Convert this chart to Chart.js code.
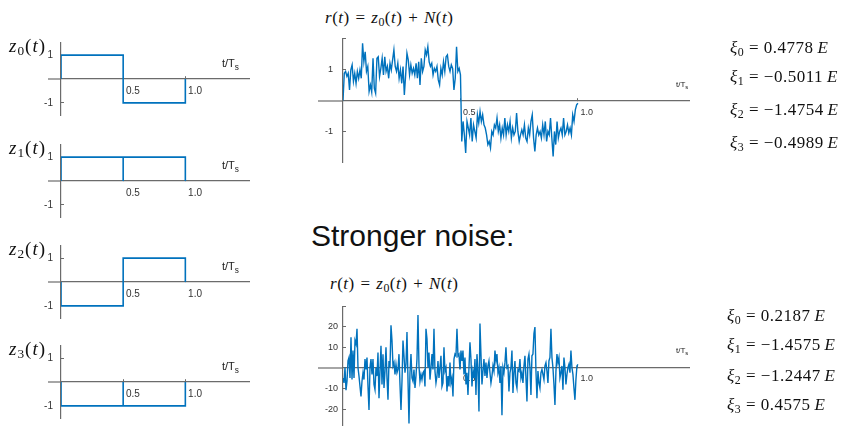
<!DOCTYPE html>
<html>
<head>
<meta charset="utf-8">
<script src="https://cdn.jsdelivr.net/npm/chart.js@4.4.1/dist/chart.umd.min.js"></script>
<style>
  html, body { margin: 0; padding: 0; background: #fff; }
  body { position: relative; width: 841px; height: 426px; overflow: hidden; }
  canvas { position: absolute; }
  .math { position: absolute; font-family: 'Liberation Serif', 'DejaVu Serif', serif; color: #111; white-space: nowrap; line-height: 1; }
  .math sub { font-size: 70%; vertical-align: -0.25em; line-height: 0; }
  .zl { font-size: 19px; letter-spacing: 1px; }
  .title { font-size: 17px; letter-spacing: 0.5px; word-spacing: 1px; }
  .xi { font-size: 17px; letter-spacing: 0.5px; }
  .axlbl { position: absolute; font-family: 'Liberation Sans', Arial, sans-serif; color: #222; white-space: nowrap; line-height: 1; }
  .axlbl sub { font-size: 75%; vertical-align: -0.4em; line-height: 0; }
  .head { position: absolute; font-family: 'Liberation Sans', Arial, sans-serif; color: #111; white-space: nowrap; line-height: 1; }
</style>
</head>
<body>
<!-- left column: the four signals -->
<canvas id="z0-chart" width="250" height="74" style="left:0; top:42px"></canvas>
<canvas id="z1-chart" width="250" height="74" style="left:0; top:144px"></canvas>
<canvas id="z2-chart" width="250" height="74" style="left:0; top:245px"></canvas>
<canvas id="z3-chart" width="250" height="74" style="left:0; top:345px"></canvas>

<div class="math zl" style="left:9px; top:36px"><i>z</i><sub>0</sub>(<i>t</i>)</div>
<div class="math zl" style="left:9px; top:138px"><i>z</i><sub>1</sub>(<i>t</i>)</div>
<div class="math zl" style="left:9px; top:239px"><i>z</i><sub>2</sub>(<i>t</i>)</div>
<div class="math zl" style="left:9px; top:339px"><i>z</i><sub>3</sub>(<i>t</i>)</div>

<div class="axlbl" style="left:222px; top:58px; font-size:11px">t/T<sub>s</sub></div>
<div class="axlbl" style="left:222px; top:160px; font-size:11px">t/T<sub>s</sub></div>
<div class="axlbl" style="left:222px; top:261px; font-size:11px">t/T<sub>s</sub></div>
<div class="axlbl" style="left:222px; top:361px; font-size:11px">t/T<sub>s</sub></div>

<!-- middle: received signal, weak and strong noise -->
<div class="math title" style="left:325px; top:9px"><i>r</i>(<i>t</i>) = <i>z</i><sub>0</sub>(<i>t</i>) + <i>N</i>(<i>t</i>)</div>
<canvas id="weak-chart" width="390" height="125" style="left:300px; top:38px"></canvas>
<div class="axlbl" style="left:676px; top:81px; font-size:8px">t/T<sub>s</sub></div>

<div class="head" style="left:311px; top:221px; font-size:30px">Stronger noise:</div>

<div class="math title" style="left:330px; top:275px"><i>r</i>(<i>t</i>) = <i>z</i><sub>0</sub>(<i>t</i>) + <i>N</i>(<i>t</i>)</div>
<canvas id="strong-chart" width="390" height="124" style="left:300px; top:306px"></canvas>
<div class="axlbl" style="left:676px; top:347px; font-size:8px">t/T<sub>s</sub></div>

<!-- right: correlator outputs -->
<div class="math xi" style="left:730px; top:39px"><i>ξ</i><sub>0</sub> = 0.4778&#8201;<i>E</i></div>
<div class="math xi" style="left:730px; top:68px"><i>ξ</i><sub>1</sub> = −0.5011&#8201;<i>E</i></div>
<div class="math xi" style="left:730px; top:101px"><i>ξ</i><sub>2</sub> = −1.4754&#8201;<i>E</i></div>
<div class="math xi" style="left:730px; top:134px"><i>ξ</i><sub>3</sub> = −0.4989&#8201;<i>E</i></div>

<div class="math xi" style="left:727px; top:307px"><i>ξ</i><sub>0</sub> = 0.2187&#8201;<i>E</i></div>
<div class="math xi" style="left:727px; top:336px"><i>ξ</i><sub>1</sub> = −1.4575&#8201;<i>E</i></div>
<div class="math xi" style="left:727px; top:367px"><i>ξ</i><sub>2</sub> = −1.2447&#8201;<i>E</i></div>
<div class="math xi" style="left:727px; top:396px"><i>ξ</i><sub>3</sub> = 0.4575&#8201;<i>E</i></div>

<script>
// ---- data ----
// signal shapes (t/Ts, amplitude)
const stepTimes = [0, 0, 0.5, 0.5, 1, 1];
const z0Values = [0, 1, 1, -1, -1, 0];
const z2Values = [0, -1, -1, 1, 1, 0];
const splitTimes = [0, 0, 0.5, 0.5, 0.5, 1, 1];
const z1Values = [0, 1, 1, 0, 1, 1, 0];
const z3Values = [0, -1, -1, 0, -1, -1, 0];

const signalXTicks = [0.5, 1.0];
const signalYTicks = [-1, 1];
const signalYLabels = ['-1', '1'];

const noiseXTicks = [0.5, 1.0];
const weakYTicks = [-2, -1, 1, 2];
const weakYLabels = ['', '-1', '1', ''];
const strongYTicks = [-30, -20, -10, 10, 20, 30];
const strongYLabels = ['', '-20', '-10', '10', '20', ''];

// r(t) samples over 0..1 t/Ts
const weakNoise = [
    0, 0.87, 0.93, 0.77, 0.87, 0.34, 0.98, 1.14, 0.61, 0.87,
    0.55, 0.93, 0.71, 0.98, 0.71, 1.83, 1.24, 1.56, 0.93, 1.09,
    0.29, 0.50, 0.27, 1.35, 0.39, 0.23, 1.35, 1.40, 0.77, 1.03,
    1.35, 0.82, 1.40, 0.93, 1.09, 0.71, 1.19, 0.98, 1.30, 1.62,
    1.09, 0.93, 1.19, 0.71, 0.98, 0.55, 1.09, 0.18, 0.82, 1.51,
    1.30, 0.82, 1.14, 0.87, 1.03, 0.82, 1.19, 0.71, 1.24, 0.50,
    1.35, 0.93, 1.09, 1.62, 1.46, 1.72, 1.24, 1.09, 1.19, 0.82,
    1.03, 0.93, 1.09, 0.66, 0.50, 1.03, 0.82, 1.24, 0.93, 1.40,
    1.46, 1.09, 0.93, 1.14, 1.03, 0.34, 0.71, 1.72, 0.93, 1.03,
    0.82,
    -1.31, -0.67, -1.10, -1.68, -0.67, -0.88, -1.10, -0.56, -1.31, -0.78,
    -0.99, -1.20, -0.46, -0.72, -0.35, -0.67, -0.46, -0.78, -0.88, -1.10,
    -1.41, -1.31, -1.52, -0.99, -1.10, -0.78, -0.88, -0.56, -0.99, -0.78,
    -1.20, -0.88, -1.10, -0.56, -1.10, -0.78, -0.99, -0.67, -1.20, -0.88,
    -1.10, -0.99, -0.40, -0.99, -1.31, -1.10, -0.94, -1.10, -0.78, -1.20,
    -1.31, -0.88, -1.10, -0.67, -0.46, -1.20, -1.63, -1.10, -0.88, -1.10,
    -0.99, -1.20, -0.78, -1.10, -0.67, -1.31, -0.99, -1.10, -0.56, -1.20,
    -1.79, -0.99, -1.41, -0.67, -1.20, -0.99, -0.88, -1.10, -0.56, -1.10,
    -0.99, -0.78, -1.04, -0.88, -1.10, -0.46, -0.67, -0.30, -0.14, -0.09
];

const strongNoise = [
    -4.8, -7.2, 0.2, -10.7, -6.4, 3.4, 5.1, -4.8, 14.9, -5.6,
    8.4, -4.8, 13.3, 11.6, 19.0, 0.2, -3.9, -8.9, -13.8, -6.4,
    -2.3, -5.6, 4.3, -0.7, 5.1, -8.9, -20.3, 0.2, 4.3, -3.1,
    4.3, -8.0, -10.5, 0.2, -3.9, 7.5, -14.6, -1.5, 10.8, -8.0,
    6.7, -9.7, -1.5, 10.0, -4.8, -15.4, 3.4, 0.2, 20.7, 13.3,
    1.0, 2.6, -3.1, 1.8, -2.3, -0.7, 6.7, -8.0, -20.3, -6.4,
    13.3, 5.9, -2.3, 1.8, 17.4, -5.6, -26.9, -2.3, 6.7, -4.8,
    -6.4, -0.7, -9.7, -3.9, 4.3, 25.6, 1.0, -6.4, -3.1, -5.6,
    -2.3, -1.5, -8.9, 19.0, 14.1, 0.2, 7.5, -5.6, 0.2, 6.7,
    -0.7, 19.0, -1.5, -7.2, -3.9, 3.4, -4.8, 0.2, 5.9, -8.9,
    -7.2, 10.0, -1.5, 0.2, -11.3, -3.9, -8.9, 2.6, -7.2, -4.8,
    -13.8, 4.3, 6.7, 5.9, 19.0, 5.9, 6.7, -0.7, 8.4, 3.4,
    8.4,
    -3.1, 5.1, -8.0, -2.3, -13.0, 0.2, 12.5, 4.3, -8.9, -1.5,
    -4.8, 4.3, -13.0, 6.7, -1.5, -21.1, 21.5, 6.7, -8.0, -1.5,
    4.3, -3.9, 2.6, -4.8, 1.0, 3.4, -2.3, -7.2, -3.9, 1.0,
    -1.5, 8.4, 3.4, 6.7, -2.3, 0.2, -7.2, 1.0, -22.8, 0.2,
    -2.3, 2.6, 10.0, 0.2, 1.0, -11.3, -2.3, 0.2, 8.4, -12.1,
    -2.3, 3.4, -7.2, -9.7, -0.7, -1.5, 4.3, -4.8, -2.3, -7.2,
    1.0, 5.9, -4.8, -16.2, 4.3, 6.7, 0.2, -13.0, 5.9, 6.7,
    16.6, 19.8, -1.5, -14.6, -1.5, -7.2, -9.7, -2.3, -0.7, -3.1,
    -5.6, 1.0, 2.6, -1.5, -7.2, 3.4, 5.1, 19.0, 5.1, 0.2,
    -8.0, -17.9, -1.5, 6.7, 2.6, 5.1, -4.8, -2.3, 1.0, -10.5,
    5.1, 0.2, -8.0, -3.1, 0.2, 1.8, -2.3, 8.4, 0.2, -3.1,
    -9.7, -15.4, -5.6, 1.0, 1.8
];

// ---- drawing ----
const BLUE = '#0072bd';
const AXIS = '#6b6b6b';
Chart.defaults.font.family = "'Liberation Sans', Arial, sans-serif";

// short piece of the t axis to the left of the amplitude axis
const axisStub = {
    id: 'axisStub',
    beforeDatasetsDraw(chart, args, opts) {
        const { ctx, chartArea } = chart;
        const y = Math.round(chart.scales.y.getPixelForValue(0));
        ctx.save();
        ctx.strokeStyle = AXIS;
        ctx.lineWidth = 1.2;
        ctx.beginPath();
        ctx.moveTo(chartArea.left - opts.length, y);
        ctx.lineTo(chartArea.left, y);
        ctx.stroke();
        ctx.restore();
    }
};

const toPoints = (times, values) => values.map((v, i) => ({ x: times[i], y: v }));
const sampled = values => values.map((v, i) => ({ x: i / (values.length - 1), y: v }));

function drawPlot(id, points, cfg) {
    return new Chart(document.getElementById(id), {
        type: 'line',
        data: {
            datasets: [{
                data: points,
                borderColor: BLUE,
                borderWidth: cfg.lineWidth,
                pointRadius: 0,
                fill: false,
                tension: 0
            }]
        },
        options: {
            responsive: false,
            animation: false,
            events: [],
            layout: { padding: 0 },
            plugins: {
                legend: { display: false },
                tooltip: { enabled: false },
                axisStub: { length: cfg.stub }
            },
            scales: {
                x: {
                    type: 'linear',
                    position: { y: 0 },
                    min: 0,
                    max: cfg.xMax,
                    border: { color: AXIS, width: 1.2 },
                    grid: { drawOnChartArea: false, tickLength: -3, color: AXIS },
                    ticks: {
                        align: 'start',
                        padding: cfg.xPad,
                        color: '#333',
                        font: { size: cfg.fontSize },
                        maxRotation: 0,
                        autoSkip: false,
                        // small gap between tick and its label, as in the original
                        callback: v => ' ' + v.toFixed(1)
                    },
                    afterBuildTicks: s => { s.ticks = cfg.xTicks.map(v => ({ value: v })); },
                    afterFit: s => { s.height = 0; s.paddingLeft = 0; s.paddingRight = 0; }
                },
                y: {
                    type: 'linear',
                    position: 'left',
                    min: cfg.yMin,
                    max: cfg.yMax,
                    border: { color: AXIS, width: 1.2 },
                    grid: { drawOnChartArea: false, tickLength: -3, color: AXIS },
                    ticks: {
                        padding: cfg.yPad,
                        color: '#333',
                        font: { size: cfg.fontSize },
                        autoSkip: false,
                        callback: (v, i) => cfg.yLabels[i]
                    },
                    afterBuildTicks: s => { s.ticks = cfg.yTicks.map(v => ({ value: v })); },
                    afterFit: s => { s.width = cfg.yWidth; s.paddingTop = 0; s.paddingBottom = 0; }
                }
            }
        },
        plugins: [axisStub]
    });
}

const signalCfg = {
    xMax: 1.52, yMin: -1.55, yMax: 1.55, yWidth: 61, stub: 13,
    xTicks: signalXTicks, yTicks: signalYTicks, yLabels: signalYLabels,
    xPad: 9, yPad: 11, fontSize: 10, lineWidth: 1.6
};

drawPlot('z0-chart', toPoints(stepTimes, z0Values), signalCfg);
drawPlot('z1-chart', toPoints(splitTimes, z1Values), signalCfg);
drawPlot('z2-chart', toPoints(stepTimes, z2Values), signalCfg);
drawPlot('z3-chart', toPoints(splitTimes, z3Values), signalCfg);

drawPlot('weak-chart', sampled(weakNoise), {
    xMax: 1.477, yMin: -2, yMax: 2, yWidth: 43, stub: 25,
    xTicks: noiseXTicks, yTicks: weakYTicks, yLabels: weakYLabels,
    xPad: 10, yPad: 13, fontSize: 9, lineWidth: 1.4
});

drawPlot('strong-chart', sampled(strongNoise), {
    xMax: 1.477, yMin: -30, yMax: 30, yWidth: 43, stub: 25,
    xTicks: noiseXTicks, yTicks: strongYTicks, yLabels: strongYLabels,
    xPad: 8, yPad: 8, fontSize: 9, lineWidth: 1.4
});
</script>
</body>
</html>
